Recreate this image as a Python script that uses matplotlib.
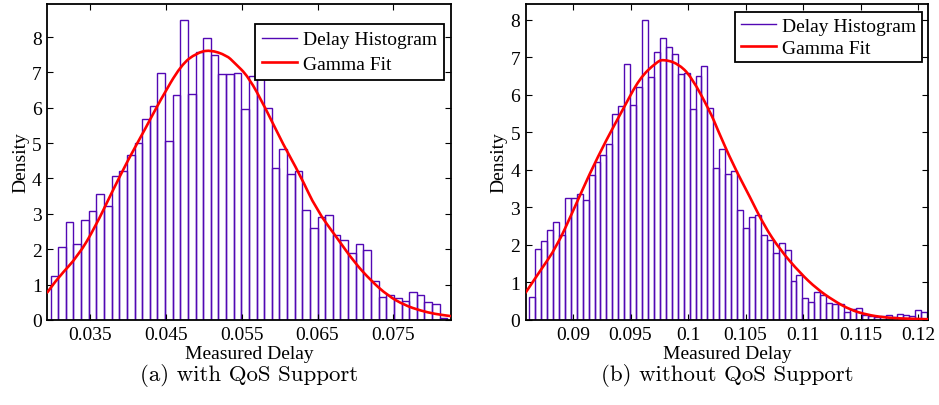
import numpy as np
import matplotlib.pyplot as plt
from matplotlib.lines import Line2D
from matplotlib.path import Path
from matplotlib.patches import PathPatch

# --- histogram heights ---
# (a) with QoS support: 52 bins of ~0.001 starting near 0.0298
qos_start = 0.0298
qos_bin = 0.001006
qos_heights = [
    1.23, 2.07, 2.78, 2.14, 2.82, 3.09, 3.55, 3.21, 4.07, 4.22,
    4.66, 4.99, 5.67, 6.05, 6.99, 5.05, 6.36, 8.48, 6.39, 7.58,
    7.97, 7.50, 6.96, 6.96, 6.99, 5.96, 6.90, 7.05, 5.98, 4.31,
    4.83, 4.12, 4.21, 3.11, 2.60, 2.92, 2.97, 2.41, 2.26, 1.88,
    2.15, 1.98, 1.11, 0.64, 0.70, 0.62, 0.53, 0.80, 0.70, 0.50,
    0.46, 0.05,
]
qos_fit_x = [0.02937, 0.03082, 0.03346, 0.03566, 0.03786, 0.04005, 0.04225,
             0.04423, 0.04703, 0.04907, 0.05080, 0.05303, 0.05400, 0.05590,
             0.05823, 0.06045, 0.06265, 0.06485, 0.06767, 0.06986, 0.07206,
             0.07426, 0.07646, 0.07865, 0.08050, 0.08254]
qos_fit_y = [0.78, 1.20, 1.82, 2.62, 3.60, 4.54, 5.39, 6.20, 7.22, 7.55,
             7.64, 7.48, 7.28, 6.88, 5.95, 4.97, 4.12, 3.12, 2.29, 1.63,
             1.11, 0.69, 0.42, 0.26, 0.17, 0.11]

# (b) without QoS support: 67 bins of ~0.000516 starting near 0.0862
noqos_start = 0.0862
noqos_bin = 0.000516
noqos_heights = [
    0.62, 1.90, 2.10, 2.39, 2.62, 2.26, 3.24, 3.26, 3.35, 3.20,
    3.86, 4.20, 4.41, 4.70, 5.48, 5.71, 6.83, 5.74, 6.22, 8.00,
    6.49, 7.14, 7.52, 7.28, 7.10, 6.57, 6.59, 5.63, 6.51, 6.77,
    5.65, 4.06, 4.56, 3.89, 3.97, 2.94, 2.45, 2.74, 2.81, 2.27,
    2.13, 1.79, 2.04, 1.86, 1.05, 1.21, 0.58, 0.49, 0.75, 0.67,
    0.46, 0.43, 0.43, 0.22, 0.30, 0.33, 0.12, 0.10, 0.08, 0.10,
    0.12, 0.09, 0.16, 0.13, 0.10, 0.27, 0.20,
]
noqos_fit_x = [0.08589, 0.08713, 0.08858, 0.09000, 0.09145, 0.09290, 0.09435,
               0.09580, 0.09725, 0.09783, 0.09910, 0.10026, 0.10200, 0.10250,
               0.10394, 0.10539, 0.10660, 0.10800, 0.10974, 0.11119, 0.11263,
               0.11409, 0.11554, 0.11698, 0.11843, 0.12087]
noqos_fit_y = [0.73, 1.30, 1.95, 2.90, 3.90, 4.80, 5.62, 6.45, 6.87, 6.95,
               6.84, 6.50, 5.50, 5.12, 4.12, 3.27, 2.52, 1.87, 1.25, 0.83,
               0.52, 0.27, 0.14, 0.07, 0.04, 0.02]

qos_ticks = [0.035, 0.045, 0.055, 0.065, 0.075]
qos_ticklabels = ["0.035", "0.045", "0.055", "0.065", "0.075"]
noqos_ticks = [0.09, 0.095, 0.1, 0.105, 0.11, 0.115, 0.12]
noqos_ticklabels = ["0.09", "0.095", "0.1", "0.105", "0.11", "0.115", "0.12"]

bar_color = '#5208b4'
serif = 'Liberation Serif'


def smooth_line(ax, xs, ys, **kw):
    # draw the read points as a smooth quadratic path (points act as controls)
    pts = np.column_stack([xs, ys])
    verts = [pts[0], (pts[0] + pts[1]) / 2]
    codes = [Path.MOVETO, Path.LINETO]
    for i in range(1, len(pts) - 1):
        verts += [pts[i], (pts[i] + pts[i + 1]) / 2]
        codes += [Path.CURVE3, Path.CURVE3]
    verts.append(pts[-1])
    codes.append(Path.LINETO)
    ax.add_patch(PathPatch(Path(verts, codes), fill=False, **kw))


fig = plt.figure(figsize=(9.39, 4.06), dpi=100)
ax1 = fig.add_axes([0.0504, 0.2094, 0.4294, 0.778])
ax2 = fig.add_axes([0.5598, 0.2094, 0.4288, 0.778])

panels = [
    (ax1, qos_start, qos_bin, qos_heights, qos_fit_x, qos_fit_y,
     (0.02937, 0.08254), 8.93, qos_ticks, qos_ticklabels,
     (0.984, 0.938), 0.36, 0.36),
    (ax2, noqos_start, noqos_bin, noqos_heights, noqos_fit_x, noqos_fit_y,
     (0.08589, 0.12087), 8.42, noqos_ticks, noqos_ticklabels,
     (0.984, 0.976), 0.3, 0.2),
]

for (ax, start, width, heights, fx, fy, xlim, ytop, ticks, labels,
     anchor, bpad, lspace) in panels:
    centers = start + width * (np.arange(len(heights)) + 0.5)
    ax.bar(centers, heights, width=width, facecolor='none',
           edgecolor=bar_color, linewidth=1.0)
    smooth_line(ax, fx, fy, edgecolor='red', linewidth=1.9,
                capstyle='round', zorder=3)

    ax.set_xlim(*xlim)
    ax.set_ylim(0, ytop)
    ax.set_xticks(ticks)
    ax.set_xticklabels(labels)
    ax.set_yticks(range(0, 9))
    ax.tick_params(direction='in', top=True, right=True, length=4,
                   width=0.8, labelsize=14, pad=4)
    for lab in ax.get_xticklabels() + ax.get_yticklabels():
        lab.set_family(serif)
    for sp in ax.spines.values():
        sp.set_linewidth(1.3)

    ax.set_xlabel('Measured Delay', family=serif, fontsize=14, labelpad=2)
    ax.set_ylabel('Density', family=serif, fontsize=14, labelpad=2)

    handles = [Line2D([], [], color=bar_color, linewidth=1.0),
               Line2D([], [], color='red', linewidth=1.9)]
    leg = ax.legend(handles, ['Delay Histogram', 'Gamma Fit'],
                    loc='upper right', bbox_to_anchor=anchor,
                    prop={'family': serif, 'size': 14},
                    fancybox=False, framealpha=1, edgecolor='black',
                    borderpad=bpad, handlelength=1.8, handletextpad=0.3,
                    labelspacing=lspace, borderaxespad=0)
    leg.get_frame().set_linewidth(1.3)

fig.text(0.265, 0.074, '(a) with QoS Support', family='cmr10',
         fontsize=16.5, ha='center', va='center')
fig.text(0.774, 0.074, '(b) without QoS Support', family='cmr10',
         fontsize=16.5, ha='center', va='center')

fig.savefig('out.png', dpi=100)
